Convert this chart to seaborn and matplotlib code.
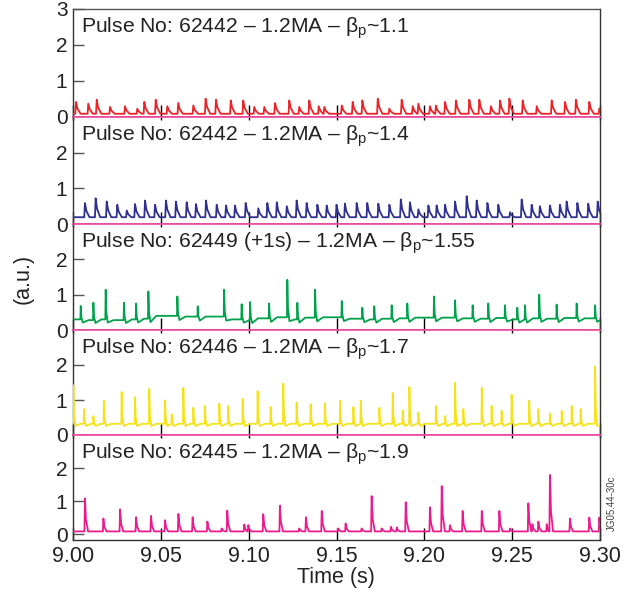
import numpy as np
import pandas as pd
import matplotlib
matplotlib.use("Agg")
import matplotlib.pyplot as plt
import seaborn as sns

sns.set_theme(style="white")
plt.rcParams['font.family'] = ['Liberation Sans', 'DejaVu Sans']
plt.rcParams['mathtext.fontset'] = 'custom'
plt.rcParams['mathtext.rm'] = 'Liberation Sans'

# ---------------- data ----------------
titles = [
    "Pulse No: 62442 \u2013 1.2MA \u2013 \u03b2$_\\mathregular{p}$~1.1",
    "Pulse No: 62442 \u2013 1.2MA \u2013 \u03b2$_\\mathregular{p}$~1.4",
    "Pulse No: 62449 (+1s) \u2013 1.2MA \u2013 \u03b2$_\\mathregular{p}$~1.55",
    "Pulse No: 62446 \u2013 1.2MA \u2013 \u03b2$_\\mathregular{p}$~1.7",
    "Pulse No: 62445 \u2013 1.2MA \u2013 \u03b2$_\\mathregular{p}$~1.9",
]

red_t = [9.0017, 9.0087, 9.0135, 9.0211, 9.0296, 9.0366, 9.0406, 9.0471, 9.0537, 9.0599,
         9.0685, 9.0755, 9.0814, 9.0898, 9.0969, 9.1032, 9.1089, 9.1150, 9.1231, 9.1288,
         9.1345, 9.1399, 9.1431, 9.1530, 9.1592, 9.1647, 9.1735, 9.1801, 9.1871, 9.1934,
         9.1966, 9.2032, 9.2066, 9.2118, 9.2180, 9.2256, 9.2313, 9.2379, 9.2431, 9.2484,
         9.2560, 9.2640, 9.2725, 9.2801, 9.2863, 9.2939, 9.2996]
red_h = [0.42, 0.37, 0.48, 0.28, 0.30, 0.23, 0.42, 0.48, 0.30, 0.39,
         0.32, 0.51, 0.48, 0.46, 0.46, 0.28, 0.28, 0.39, 0.46, 0.28,
         0.46, 0.30, 0.28, 0.32, 0.42, 0.46, 0.51, 0.23, 0.48, 0.30,
         0.37, 0.30, 0.32, 0.42, 0.46, 0.48, 0.48, 0.30, 0.46, 0.51,
         0.46, 0.30, 0.46, 0.42, 0.48, 0.42, 0.23]
red_base = [0.09]

blue_t = [9.0068, 9.0129, 9.0192, 9.0252, 9.0306, 9.0353, 9.0410, 9.0467, 9.0529, 9.0586,
          9.0647, 9.0700, 9.0757, 9.0818, 9.0871, 9.0922, 9.0983, 9.1055, 9.1106, 9.1160,
          9.1217, 9.1273, 9.1330, 9.1391, 9.1444, 9.1500, 9.1548, 9.1615, 9.1675, 9.1738,
          9.1801, 9.1866, 9.1918, 9.1966, 9.2023, 9.2070, 9.2118, 9.2175, 9.2241, 9.2298,
          9.2359, 9.2421, 9.2488, 9.2554, 9.2611, 9.2658, 9.2715, 9.2772, 9.2810, 9.2871,
          9.2933, 9.2987]
blue_h = [0.59, 0.72, 0.63, 0.54, 0.38, 0.56, 0.66, 0.54, 0.66, 0.63,
          0.61, 0.56, 0.66, 0.54, 0.52, 0.52, 0.59, 0.44, 0.59, 0.61,
          0.50, 0.66, 0.59, 0.54, 0.52, 0.54, 0.57, 0.59, 0.59, 0.57,
          0.54, 0.69, 0.61, 0.41, 0.52, 0.52, 0.54, 0.63, 0.78, 0.66,
          0.59, 0.54, 0.33, 0.69, 0.54, 0.50, 0.52, 0.54, 0.63, 0.59,
          0.57, 0.63]
blue_base = [0.19]

green_t = [9.0044, 9.0116, 9.0186, 9.0290, 9.0359, 9.0429, 9.0594, 9.0710, 9.0860, 9.0960,
           9.1008, 9.1116, 9.1220, 9.1277, 9.1378, 9.1530, 9.1647, 9.1715, 9.1814, 9.1903,
           9.2055, 9.2175, 9.2275, 9.2364, 9.2459, 9.2529, 9.2573, 9.2654, 9.2753, 9.2867,
           9.2972]
green_h = [0.68, 0.77, 1.14, 0.77, 0.75, 1.09, 0.95, 0.67, 1.14, 0.73,
           0.79, 0.75, 1.42, 0.77, 1.14, 0.82, 0.63, 0.67, 0.70, 0.75,
           0.95, 0.84, 0.70, 0.75, 0.70, 0.63, 0.70, 1.00, 0.72, 0.75,
           0.70]
green_base = [0.30, 0.28, 0.30, 0.28, 0.30, 0.32, 0.40, 0.38, 0.38, 0.30,
              0.28, 0.33, 0.36, 0.30, 0.35, 0.36, 0.32, 0.30, 0.32, 0.33,
              0.35, 0.35, 0.33, 0.32, 0.34, 0.30, 0.30, 0.33, 0.32, 0.34,
              0.33]

yellow_t = [9.0002, 9.0063, 9.0116, 9.0176, 9.0277, 9.0353, 9.0434, 9.0524, 9.0562, 9.0628,
            9.0685, 9.0751, 9.0833, 9.0884, 9.0966, 9.1051, 9.1125, 9.1197, 9.1273, 9.1353,
            9.1434, 9.1520, 9.1596, 9.1638, 9.1744, 9.1820, 9.1877, 9.1915, 9.1966, 9.2066,
            9.2118, 9.2175, 9.2222, 9.2327, 9.2383, 9.2440, 9.2497, 9.2597, 9.2649, 9.2715,
            9.2782, 9.2839, 9.2890, 9.2972]
yellow_h = [1.42, 0.74, 0.54, 0.98, 1.23, 1.08, 1.32, 0.99, 0.59, 1.35,
            0.78, 0.83, 0.90, 0.83, 1.03, 1.25, 0.80, 1.47, 0.93, 0.88,
            0.90, 0.98, 0.80, 0.98, 0.78, 1.20, 0.70, 1.37, 0.64, 0.83,
            0.54, 1.49, 0.74, 1.35, 0.83, 0.69, 1.15, 0.98, 0.74, 0.61,
            0.69, 0.83, 0.74, 1.96]
yellow_base = [0.32]

pink_t = [9.0068, 9.0173, 9.0268, 9.0359, 9.0444, 9.0524, 9.0600, 9.0681, 9.0765, 9.0846,
          9.0878, 9.0975, 9.0998, 9.1083, 9.1178, 9.1288, 9.1326, 9.1416, 9.1510, 9.1552,
          9.1643, 9.1700, 9.1757, 9.1810, 9.1843, 9.1894, 9.2032, 9.2099, 9.2146, 9.2218,
          9.2327, 9.2427, 9.2488, 9.2592, 9.2615, 9.2649, 9.2697, 9.2715, 9.2829, 9.2939,
          9.2996]
pink_h = [1.08, 0.47, 0.75, 0.51, 0.55, 0.42, 0.61, 0.51, 0.38, 0.17,
          0.71, 0.29, 0.27, 0.60, 0.86, 0.17, 0.51, 0.70, 0.17, 0.32,
          0.17, 1.15, 0.17, 0.22, 0.20, 0.96, 0.81, 1.45, 0.27, 0.70,
          0.70, 0.70, 0.17, 0.93, 0.30, 0.38, 0.30, 1.79, 0.47, 0.50,
          0.50]
pink_base = [0.08]

series_t = [red_t, blue_t, green_t, yellow_t, pink_t]
series_h = [red_h, blue_h, green_h, yellow_h, pink_h]
series_base = [red_base, blue_base, green_base, yellow_base, pink_base]

xticks = [9.00, 9.05, 9.10, 9.15, 9.20, 9.25, 9.30]
xticklabels = ["9.00", "9.05", "9.10", "9.15", "9.20", "9.25", "9.30"]

# ---------------- styles ----------------
colors = ["#ec2227", "#2e3192", "#00a14b", "#f4e31c", "#ec1a8c"]
zero_color = "#e8489c"
spine_color = "#333333"
# spike shape: (rise, fall1, frac1, fall2, dip, recover)
shapes = [
    (0.0004, 0.0008, 0.45, 0.0026, 1.00, 0.0040),
    (0.0004, 0.0008, 0.45, 0.0026, 1.00, 0.0040),
    (0.0002, 0.0004, 0.30, 0.0012, 0.70, 0.0045),
    (0.0002, 0.0004, 0.30, 0.0012, 0.80, 0.0040),
    (0.0003, 0.0006, 0.35, 0.0018, 1.00, 0.0035),
]

T0, T1 = 9.0, 9.3


def build_trace(t, h, base, shape):
    rise, fall1, frac1, fall2, dip, recover = shape
    n = len(t)
    b = list(base) if len(base) == n else [base[0]] * n
    xs, ys = [T0], [b[0]]
    for i in range(n):
        nxt = t[i + 1] if i + 1 < n else T1 + 0.01
        nb = b[i + 1] if i + 1 < n else b[i]
        after = b[i] * dip
        x2 = min(t[i] + fall1, nxt - 2.6 * rise)
        x3 = min(t[i] + fall2, nxt - 2.0 * rise)
        xs += [t[i] - rise, t[i], x2, x3]
        ys += [b[i], h[i], after + frac1 * (h[i] - after), after]
        x4 = t[i] + recover
        if x4 < nxt - 1.5 * rise:
            xs.append(x4)
            ys.append(nb)
    xs.append(T1 + 0.01)
    ys.append(b[-1])
    return pd.DataFrame({"time": xs, "signal": ys})


W, H = 632, 594
fig = plt.figure(figsize=(W / 100, H / 100), dpi=100)
tops = [9, 117, 224, 330, 435]
bots = [117, 224, 330, 435, 540]
left, right = 73, 600
ylims = [(0, 3), (0, 3), (0, 3), (0, 3), (-0.18, 3)]

axes = []
for i in range(5):
    ax = fig.add_axes([left / W, 1 - bots[i] / H, (right - left) / W, (bots[i] - tops[i]) / H])
    axes.append(ax)
    df = build_trace(series_t[i], series_h[i], series_base[i], shapes[i])
    sns.lineplot(data=df, x="time", y="signal", ax=ax, color=colors[i], lw=1.3,
                 estimator=None, sort=False, zorder=3)
    ax.set_xlim(T0, T1)
    ax.set_ylim(*ylims[i])
    ax.set_xlabel("")
    ax.set_ylabel("")
    ax.set_facecolor("white")
    for s in ["left", "right"]:
        ax.spines[s].set_color(spine_color)
        ax.spines[s].set_linewidth(1.0)
        ax.spines[s].set_visible(True)
    ax.spines["top"].set_visible(True)
    ax.spines["bottom"].set_visible(True)
    if i == 0:
        ax.spines["top"].set_color("#555555")
        ax.spines["top"].set_linewidth(1.0)
    else:
        ax.spines["top"].set_color(zero_color)
        ax.spines["top"].set_linewidth(1.2)
    if i < 4:
        ax.spines["bottom"].set_color(zero_color)
        ax.spines["bottom"].set_linewidth(1.2)
    else:
        ax.spines["bottom"].set_color(spine_color)
        ax.spines["bottom"].set_linewidth(1.0)

    yt = [0, 1, 2, 3] if i == 0 else [0, 1, 2]
    ax.set_yticks(yt)
    ax.set_yticklabels([str(v) for v in yt])
    ax.tick_params(axis="y", direction="in", length=8, width=1.0, color="#555555",
                   labelsize=15, pad=4, labelcolor="#222222", left=True, right=False)
    ax.set_xticks(xticks)
    ax.tick_params(axis="x", direction="in", length=8.5, width=1.0, color="black",
                   bottom=True, top=(i > 0), labelbottom=(i == 4), labelsize=15.5,
                   pad=4.5, labelcolor="#222222")
    if i == 4:
        ax.set_xticklabels(xticklabels)
    for tk in ax.xaxis.get_major_ticks():
        tk.tick2line.set_markersize(2.5)
    ax.text(8 / (right - left), 1 - 23 / (bots[i] - tops[i]), titles[i],
            transform=ax.transAxes, fontsize=15.2, color="#222222", va="baseline", ha="left",
            zorder=5)

fig.text(336 / W, 1 - 578 / H, "Time (s)", fontsize=15.5, ha="center", va="center", color="#222222")
fig.text(23 / W, 1 - 279 / H, "(a.u.)", fontsize=15.5, rotation=90, ha="center", va="center",
         color="#222222")
fig.text(612 / W, 1 - 503 / H, "JG05.44-30c", fontsize=7, rotation=90, ha="center", va="center",
         color="#444444")

fig.savefig("out.png", dpi=100)
